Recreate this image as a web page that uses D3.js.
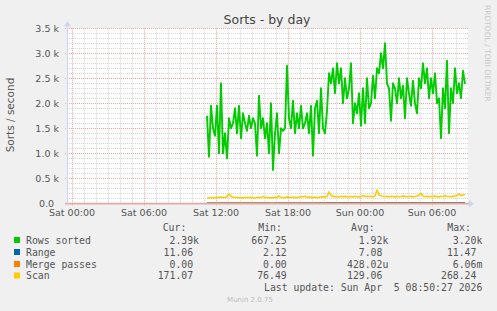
<!DOCTYPE html>
<meta charset="utf-8">
<html>
  <head>
    <style>
      body { margin: 0; background: #f0f0f0; }
      text.sans { font-family: "DejaVu Sans", sans-serif; fill: #555; }
      text.mono { font-family: "DejaVu Sans Mono", monospace; font-size: 9.8px; fill: #555; }
    </style>
    <script src="https://d3js.org/d3.v7.min.js"></script>
  </head>
  <body>
    <div id="chart"></div>
    <script type="text/javascript">
      // values, one sample every 10 minutes from Sat 11:15
      var startTime = new Date(2026, 3, 4, 11, 15);
      var stepMinutes = 10;
      var rowsSorted = [1750, 930, 1950, 1500, 1350, 1950, 1000, 2400, 1000, 1400,
                        900, 1700, 1500, 1600, 1900, 1400, 1950, 1300, 1800, 1600,
                        1450, 1750, 1500, 1700, 1600, 950, 2150, 1500, 1700, 1300,
                        1600, 1000, 2000, 667, 1400, 1800, 1000, 1500, 1450, 1500,
                        2750, 1700, 1500, 2050, 1400, 1800, 1500, 1950, 1500, 1600,
                        1800, 1400, 1950, 950, 1900, 2050, 1400, 2300, 1500, 1400,
                        1850, 2600, 2400, 2700, 2200, 2800, 2400, 2700, 2000, 2500,
                        2100, 2300, 2800, 1600, 2000, 1800, 2200, 1550, 2300, 1600,
                        2500, 1900, 2000, 2550, 2100, 2700, 2600, 3000, 2700, 3200,
                        2400, 2300, 1650, 2400, 2300, 2000, 2500, 2100, 2350, 1700,
                        2500, 2200, 1950, 2450, 2000, 1800, 2500, 2300, 2800, 2400,
                        2700, 2100, 2500, 2200, 2600, 2000, 2100, 1300, 2300, 1900,
                        2850, 1400, 2300, 2000, 2700, 2200, 2400, 2100, 2650, 2390];
      var range = [4, 3, 5, 4, 3, 2.5, 4, 5, 3, 4,
                   5, 4, 3, 4, 5, 6, 4, 3, 4, 5,
                   4, 5, 6, 4, 3, 4, 5, 4, 6, 5,
                   4, 5, 3, 2.1, 4, 5, 4, 6, 5, 4,
                   5, 6, 5, 4, 6, 5, 4, 5, 6, 5,
                   6, 5, 7, 6, 5, 7, 6, 8, 7, 6,
                   8, 9, 10, 9, 8, 10, 9, 11, 8, 9,
                   10, 9, 8, 10, 9, 11, 10, 9, 8, 10,
                   9, 10, 11, 9, 10, 8, 9, 11, 10, 11.5,
                   9, 10, 8, 9, 10, 9, 11, 10, 8, 9,
                   10, 9, 11, 10, 9, 8, 10, 9, 11, 10,
                   9, 10, 8, 9, 10, 11, 9, 10, 8, 9,
                   10, 11, 9, 10, 8, 9, 10, 11, 10, 11.06];
      var mergePasses = [0, 0, 0, 0, 0, 0, 0, 0, 0, 0,
                         0, 0, 0, 0, 0, 0, 0, 0, 0, 0,
                         0, 0, 0, 0, 0, 0, 0, 0, 0, 0,
                         0, 0, 0, 0, 0, 0, 0, 0, 0, 0,
                         0, 0, 0, 0.006, 0, 0, 0, 0, 0, 0,
                         0, 0, 0, 0, 0, 0, 0, 0, 0, 0,
                         0, 0, 0, 0, 0, 0, 0, 0, 0, 0,
                         0, 0, 0, 0, 0, 0, 0, 0, 0, 0,
                         0, 0, 0, 0, 0, 0, 0, 0, 0, 0.006,
                         0, 0, 0, 0, 0, 0, 0, 0, 0, 0,
                         0, 0, 0, 0, 0, 0, 0, 0, 0, 0,
                         0, 0, 0, 0, 0, 0, 0, 0, 0, 0,
                         0, 0, 0, 0, 0, 0, 0, 0, 0, 0];
      var scan = [110, 105, 115, 108, 112, 120, 118, 125, 110, 115,
                  130, 185, 140, 120, 115, 118, 110, 112, 108, 115,
                  120, 112, 118, 110, 105, 115, 120, 112, 140, 118,
                  110, 115, 108, 112, 120, 118, 150, 115, 110, 112,
                  128, 120, 115, 118, 122, 110, 125, 135, 130, 140,
                  120, 118, 125, 115, 120, 112, 118, 125, 130, 128,
                  135, 230, 160, 140, 130, 135, 128, 140, 132, 138,
                  130, 128, 135, 125, 140, 130, 128, 135, 150, 140,
                  138, 135, 140, 132, 145, 268, 170, 150, 140, 135,
                  138, 130, 142, 135, 128, 140, 132, 135, 145, 138,
                  130, 135, 140, 128, 135, 145, 160, 200, 140, 135,
                  138, 132, 140, 135, 145, 130, 128, 140, 135, 150,
                  140, 135, 130, 138, 145, 150, 190, 150, 165, 171.07];

      var seriesNames = ["Rows sorted", "Range", "Merge passes", "Scan"];
      var seriesColors = ["#00cc00", "#0066b3", "#ff8000", "#ffcc00"];
      var curText = ["2.39k", "11.06", "0.00", "171.07"];
      var minText = ["667.25", "2.12", "0.00", "76.49"];
      var avgText = ["1.92k", "7.08", "428.02u", "129.06"];
      var maxText = ["3.20k", "11.47", "6.06m", "268.24"];
      var yTicks = [0, 500, 1000, 1500, 2000, 2500, 3000, 3500];
      var yTickLabels = ["0.0", "0.5 k", "1.0 k", "1.5 k", "2.0 k", "2.5 k", "3.0 k", "3.5 k"];

      var width = 497, height = 311,
          plot = { left: 67, right: 468, top: 28.3, bottom: 203.3 };

      var svg = d3.select("#chart").append("svg")
          .attr("width", width)
          .attr("height", height);

      var x = d3.scaleTime()
          .domain([new Date(2026, 3, 3, 23, 35), new Date(2026, 3, 5, 9, 0)])
          .range([plot.left, plot.right]);
      var y = d3.scaleLinear()
          .domain([0, 3500])
          .range([plot.bottom, plot.top]);

      svg.append("rect")
          .attr("x", plot.left).attr("y", plot.top)
          .attr("width", plot.right - plot.left)
          .attr("height", plot.bottom - plot.top)
          .style("fill", "#fff");

      // grid: minor first, then major
      var hours = d3.timeHour.range(x.domain()[0], x.domain()[1]);
      var minorY = d3.range(0, 3501, 100);
      svg.selectAll(".vminor").data(hours.filter(function(d) { return d.getHours() % 6 != 0; }))
        .enter().append("line")
          .attr("x1", function(d) { return Math.round(x(d)) + 0.5; })
          .attr("x2", function(d) { return Math.round(x(d)) + 0.5; })
          .attr("y1", plot.top).attr("y2", plot.bottom)
          .style("stroke", "#d6d6d6").style("stroke-dasharray", "1,1");
      svg.selectAll(".hminor").data(minorY.filter(function(d) { return d % 500 != 0; }))
        .enter().append("line")
          .attr("x1", plot.left).attr("x2", plot.right)
          .attr("y1", function(d) { return Math.round(y(d)) + 0.5; })
          .attr("y2", function(d) { return Math.round(y(d)) + 0.5; })
          .style("stroke", "#d6d6d6").style("stroke-dasharray", "1,1");
      var majorX = hours.filter(function(d) { return d.getHours() % 6 == 0; });
      svg.selectAll(".vmajor").data(majorX)
        .enter().append("line")
          .attr("x1", function(d) { return Math.round(x(d)) + 0.5; })
          .attr("x2", function(d) { return Math.round(x(d)) + 0.5; })
          .attr("y1", plot.top).attr("y2", plot.bottom + 2)
          .style("stroke", "#e8a8a8").style("stroke-dasharray", "1,1");
      svg.selectAll(".hmajor").data(yTicks.slice(1))
        .enter().append("line")
          .attr("x1", plot.left - 2).attr("x2", plot.right)
          .attr("y1", function(d) { return Math.round(y(d)) + 0.5; })
          .attr("y2", function(d) { return Math.round(y(d)) + 0.5; })
          .style("stroke", "#e8a8a8").style("stroke-dasharray", "1,1");

      // data lines
      var series = [rowsSorted, range, mergePasses, scan];
      var line = d3.line()
          .x(function(d, i) { return x(d3.timeMinute.offset(startTime, i * stepMinutes)); })
          .y(function(d) { return y(d); });
      svg.selectAll(".series").data(series)
        .enter().append("path")
          .attr("d", line)
          .style("fill", "none")
          .style("stroke", function(d, i) { return seriesColors[i]; })
          .style("stroke-width", function(d, i) { return i == 0 ? 1.9 : 1.6; })
          .style("stroke-linejoin", "round");

      // axes, drawn over the lines like rrdtool does
      svg.append("line")
          .attr("x1", plot.left - 2).attr("x2", plot.right + 1)
          .attr("y1", plot.bottom + 0.4).attr("y2", plot.bottom + 0.4)
          .style("stroke", "#e3aaa2")
          .style("stroke-width", 1.7);
      svg.append("line")
          .attr("x1", plot.left + 0.5).attr("x2", plot.left + 0.5)
          .attr("y1", plot.bottom + 2).attr("y2", plot.top - 3)
          .style("stroke", "#cdd5ee");
      svg.append("path")
          .attr("d", "M" + (plot.left - 3) + "," + (plot.top - 2) + "L" + (plot.left + 0.5) + "," + (plot.top - 7) + "L" + (plot.left + 4) + "," + (plot.top - 2) + "Z")
          .style("fill", "#cdd5ee");
      svg.append("path")
          .attr("d", "M" + (plot.right + 1) + "," + (plot.bottom - 3.3) + "L" + (plot.right + 6) + "," + (plot.bottom + 0.4) + "L" + (plot.right + 1) + "," + (plot.bottom + 4.1) + "Z")
          .style("fill", "#cdd5ee");

      svg.selectAll(".ylabel").data(yTicks)
        .enter().append("text")
          .attr("class", "sans")
          .attr("x", function(d, i) { return yTickLabels[i].indexOf("k") < 0 ? 54 : 59; })
          .attr("y", function(d) { return y(d) + 3.5; })
          .style("text-anchor", "end")
          .style("font-size", "9.5px")
          .text(function(d, i) { return yTickLabels[i]; });

      svg.selectAll(".xlabel").data(majorX)
        .enter().append("text")
          .attr("class", "sans")
          .attr("x", function(d) { return x(d); })
          .attr("y", 215.5)
          .style("text-anchor", "middle")
          .style("font-size", "9.5px")
          .text(d3.timeFormat("%a %H:%M"));

      svg.append("text")
          .attr("class", "sans")
          .attr("x", 267).attr("y", 24)
          .style("text-anchor", "middle")
          .style("font-size", "12.5px")
          .style("fill", "#444")
          .text("Sorts - by day");

      svg.append("text")
          .attr("class", "sans")
          .attr("transform", "translate(14,115) rotate(-90)")
          .style("text-anchor", "middle")
          .style("font-size", "10.5px")
          .text("Sorts / second");

      svg.append("text")
          .attr("class", "sans")
          .attr("transform", "translate(485,5) rotate(90)")
          .style("font-size", "7.5px")
          .style("fill", "#c8c8c8")
          .text("RRDTOOL / TOBI OETIKER");

      // legend
      var rowY = [243.5, 255.5, 267.5, 279];
      var headers = [["Cur:", 162.7], ["Min:", 258.3], ["Avg:", 351], ["Max:", 447.3]];
      svg.selectAll(".head").data(headers)
        .enter().append("text")
          .attr("class", "mono")
          .attr("x", function(d) { return d[1]; })
          .attr("y", 231)
          .text(function(d) { return d[0]; });

      svg.selectAll(".swatch").data(seriesNames)
        .enter().append("rect")
          .attr("x", 14).attr("y", function(d, i) { return rowY[i] - 6.5; })
          .attr("width", 6).attr("height", 6)
          .style("fill", function(d, i) { return seriesColors[i]; });

      svg.selectAll(".lname").data(seriesNames)
        .enter().append("text")
          .attr("class", "mono")
          .attr("x", 26).attr("y", function(d, i) { return rowY[i]; })
          .text(function(d) { return d; });

      function unitPad(s) { return /[kmu]$/.test(s) ? s : s + "\u00a0"; }
      var columns = [[curText, 199], [minText, 292.6], [avgText, 388.3], [maxText, 482.3]];
      columns.forEach(function(col) {
        svg.selectAll(null).data(col[0])
          .enter().append("text")
            .attr("class", "mono")
            .attr("x", col[1])
            .attr("y", function(d, i) { return rowY[i]; })
            .style("text-anchor", "end")
            .text(function(d) { return unitPad(d); });
      });

      svg.append("text")
          .attr("class", "mono")
          .attr("x", 482.3).attr("y", 291)
          .style("text-anchor", "end")
          .text("Last update: Sun Apr \u00a05 08:50:27 2026");

      svg.append("text")
          .attr("class", "sans")
          .attr("x", 250).attr("y", 302)
          .style("text-anchor", "middle")
          .style("font-size", "7px")
          .style("fill", "#bbb")
          .text("Munin 2.0.75");
    </script>
  </body>
</html>
